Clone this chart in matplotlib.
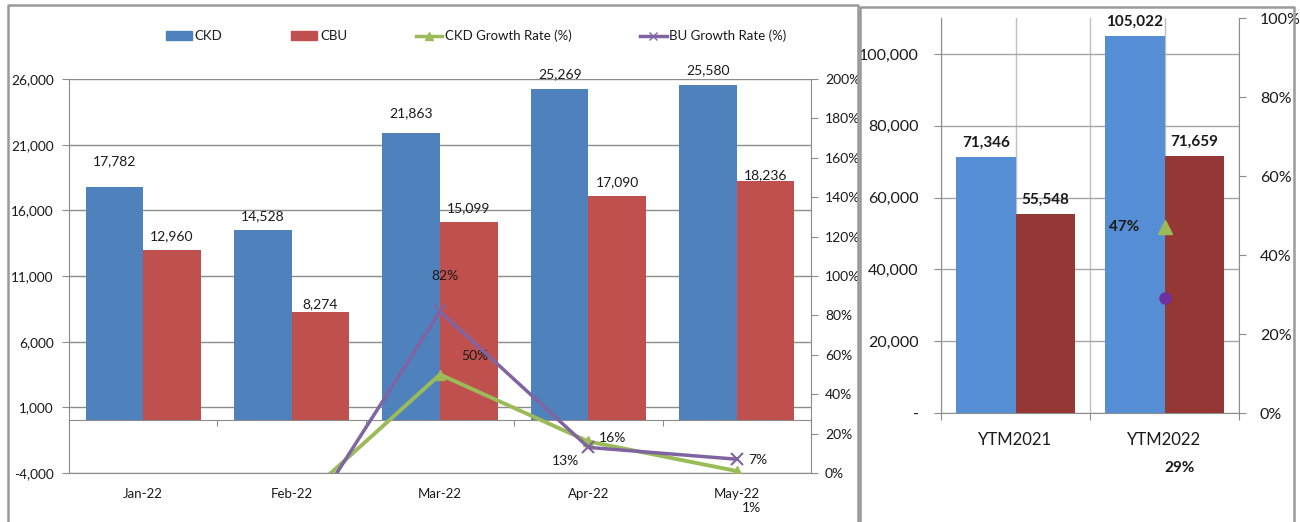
import matplotlib.pyplot as plt
import matplotlib.ticker as mticker
from matplotlib.lines import Line2D
from matplotlib.patches import Patch
import numpy as np

# monthly data (left chart)
months = ["Jan-22", "Feb-22", "Mar-22", "Apr-22", "May-22"]
ckd = [17782, 14528, 21863, 25269, 25580]
cbu = [12960, 8274, 15099, 17090, 18236]
ckd_growth = [np.nan, -0.18, 0.50, 0.16, 0.01]
cbu_growth = [np.nan, -0.36, 0.82, 0.13, 0.07]

# year-to-month data (right chart)
ytm_labels = ["YTM2021", "YTM2022"]
ytm_ckd = [71346, 105022]
ytm_cbu = [55548, 71659]
ytm_ckd_growth = [np.nan, 0.47]
ytm_cbu_growth = [np.nan, 0.29]

plt.rcParams['font.family'] = ['Lato', 'DejaVu Sans']
TXT = '#1a1a1a'
BLUE, RED = '#4F81BD', '#C0504D'
GREEN, PURPLE = '#9BBB59', '#8064A2'
BLUE2, RED2 = '#558ED5', '#953735'
GRID = '#8C8C8C'

W, H = 1300, 522
fig = plt.figure(figsize=(W / 100, H / 100), dpi=100)


def px_axes(l, t, r, b):
    return fig.add_axes([l / W, 1 - b / H, (r - l) / W, (b - t) / H])


# panel borders
for xs, ys in [([8, 8, 858, 858], [H, 5, 5, H]), ([860, 860, 1294, 1294], [H, 7, 7, H])]:
    fig.add_artist(Line2D([x / W for x in xs], [1 - y / H for y in ys],
                          color='#9a9a9a', lw=1.8))

# ---------------- left chart ----------------
ax = px_axes(69, 79, 811, 473)
x = np.arange(len(months))
bw = 0.388
b1 = ax.bar(x - bw / 2, ckd, bw, color=BLUE, zorder=2)
b2 = ax.bar(x + bw / 2, cbu, bw, color=RED, zorder=2)
ax.set_xlim(-0.5, len(months) - 0.5)
ax.set_ylim(-4000, 26000)
ax.set_yticks(np.arange(-4000, 26001, 5000))
ax.yaxis.set_major_formatter(mticker.FuncFormatter(lambda v, p: f"{int(v):,}"))
ax.set_axisbelow(True)
ax.grid(axis='y', color=GRID, lw=1)
ax.set_xticks(x)
ax.set_xticklabels(months)
ax.tick_params(axis='x', length=0, pad=11, labelsize=9.5, labelcolor=TXT)
ax.tick_params(axis='y', length=5, color=GRID, pad=6, labelsize=9.8, labelcolor=TXT)
for s in ['top', 'right']:
    ax.spines[s].set_visible(False)
for s in ['left', 'bottom']:
    ax.spines[s].set_color(GRID)

# category axis crossing at zero
zero_pos = (0 - ax.get_ylim()[0]) / (ax.get_ylim()[1] - ax.get_ylim()[0])
sec = ax.secondary_xaxis(zero_pos)
sec.set_xticks(np.arange(len(months) + 1) - 0.5)
sec.set_xticklabels([])
sec.tick_params(length=4, color=GRID, direction='out')
sec.spines['bottom'].set_color(GRID)

ckd_off = [26, 14, 20, 14, 14]
cbu_off = [14, 8, 14, 14, 6]
for rect, v, o in zip(b1, ckd, ckd_off):
    ax.annotate(f"{v:,}", (rect.get_x() + rect.get_width() / 2, v), xytext=(0, o),
                textcoords='offset pixels', ha='center', va='center', fontsize=10, color=TXT)
for rect, v, o in zip(b2, cbu, cbu_off):
    ax.annotate(f"{v:,}", (rect.get_x() + rect.get_width() / 2, v), xytext=(0, o),
                textcoords='offset pixels', ha='center', va='center', fontsize=10, color=TXT)

ax2 = ax.twinx()
ax2.set_ylim(0, 2)
ax2.set_yticks(np.arange(0, 2.01, 0.2))
ax2.yaxis.set_major_formatter(mticker.PercentFormatter(1.0, decimals=0))
ax2.tick_params(axis='y', length=5, color=GRID, pad=5, labelsize=10, labelcolor=TXT)
for s in ['top', 'left', 'bottom']:
    ax2.spines[s].set_visible(False)
ax2.spines['right'].set_color(GRID)
ax2.plot(x, ckd_growth, color=GREEN, lw=2.8, marker='^', ms=7, zorder=3)
ax2.plot(x, cbu_growth, color=PURPLE, lw=2.5, marker='x', ms=8, mew=1.5, zorder=4)

ckd_g_off = [None, None, (35, 18), (24, 3), (15, -37)]
cbu_g_off = [None, None, (5, 35), (-23, -14), (21, -1)]
for vals, offs in [(ckd_growth, ckd_g_off), (cbu_growth, cbu_g_off)]:
    for i, (v, o) in enumerate(zip(vals, offs)):
        if o is None:
            continue
        ax2.annotate(f"{v:.0%}", (x[i], v), xytext=o, textcoords='offset pixels',
                     ha='center', va='center', fontsize=10, color=TXT, annotation_clip=False)

handles = [Patch(color=BLUE), Patch(color=RED),
           Line2D([], [], color=GREEN, lw=2.5, marker='^', ms=6),
           Line2D([], [], color=PURPLE, lw=2.5, marker='x', ms=6)]
fig.legend(handles, ["CKD", "CBU", "CKD Growth Rate (%)", "BU Growth Rate (%)"],
           loc='center', bbox_to_anchor=(476 / W, 1 - 36 / H), ncol=4, frameon=False,
           fontsize=9.5, handlelength=2.0, handletextpad=0.2, columnspacing=5.2,
           labelcolor=TXT)

# ---------------- right chart ----------------
bx = px_axes(941, 18, 1239, 413)
xr = np.arange(len(ytm_labels))
bw2 = 0.40
r1 = bx.bar(xr - bw2 / 2, ytm_ckd, bw2, color=BLUE2, zorder=2)
r2 = bx.bar(xr + bw2 / 2, ytm_cbu, bw2, color=RED2, zorder=2)
bx.set_xlim(-0.5, len(ytm_labels) - 0.5)
bx.set_ylim(0, 110000)
bx.set_yticks(np.arange(0, 100001, 20000))
bx.yaxis.set_major_formatter(mticker.FuncFormatter(lambda v, p: "-" if v == 0 else f"{int(v):,}"))
bx.set_axisbelow(True)
bx.grid(axis='y', color='#A6A6A6', lw=1)
for xv in list(xr) + list(np.arange(len(ytm_labels) + 1) - 0.5):
    bx.axvline(xv, color='#BFBFBF', lw=1, zorder=0)
bx.set_xticks(np.arange(len(ytm_labels) + 1) - 0.5)
bx.set_xticklabels([])
bx.set_xticks(xr, minor=True)
bx.set_xticklabels(ytm_labels, minor=True)
bx.tick_params(axis='x', which='major', length=5, color=GRID)
bx.tick_params(axis='x', which='minor', length=0, pad=14, labelsize=12, labelcolor=TXT)
bx.tick_params(axis='y', length=5, color=GRID, pad=11, labelsize=11.5, labelcolor=TXT)
for s in ['top', 'right']:
    bx.spines[s].set_visible(False)
for s in ['left', 'bottom']:
    bx.spines[s].set_color(GRID)

for bars, vals in [(r1, ytm_ckd), (r2, ytm_cbu)]:
    for rect, v in zip(bars, vals):
        bx.annotate(f"{v:,}", (rect.get_x() + rect.get_width() / 2, v), xytext=(0, 14),
                    textcoords='offset pixels', ha='center', va='center',
                    fontsize=11, fontweight='bold', color=TXT)

bx2 = bx.twinx()
bx2.set_ylim(0, 1)
bx2.set_yticks(np.arange(0, 1.01, 0.2))
bx2.yaxis.set_major_formatter(mticker.PercentFormatter(1.0, decimals=0))
bx2.tick_params(axis='y', length=5, color=GRID, pad=10, labelsize=11.5, labelcolor=TXT)
for s in ['top', 'left', 'bottom']:
    bx2.spines[s].set_visible(False)
bx2.spines['right'].set_color(GRID)
bx2.plot(xr, ytm_ckd_growth, color=GREEN, lw=0, marker='^', ms=10)
bx2.plot(xr, ytm_cbu_growth, color='#7030A0', lw=0, marker='o', ms=8)

for vals, o in [(ytm_ckd_growth, (-40, 0)), (ytm_cbu_growth, (15, -170))]:
    bx2.annotate(f"{vals[1]:.0%}", (xr[1], vals[1]), xytext=o, textcoords='offset pixels',
                 ha='center', va='center', fontsize=11, fontweight='bold', color=TXT,
                 annotation_clip=False)

fig.savefig("out.png", dpi=100)
